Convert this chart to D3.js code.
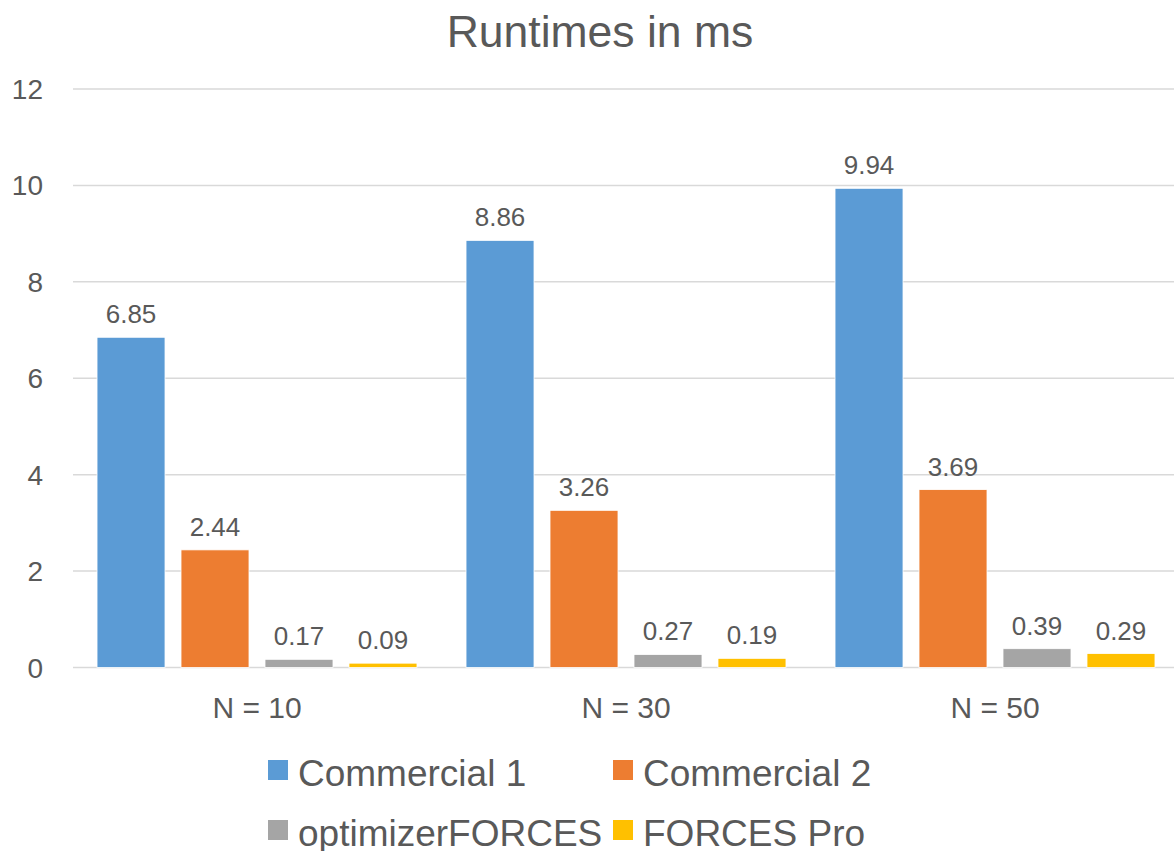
<!DOCTYPE html>
<html>
<head>
<meta charset="utf-8">
<script src="https://cdn.jsdelivr.net/npm/d3@7"></script>
<style>
  html, body { margin: 0; padding: 0; background: #fff; }
  svg { display: block; }
  text { font-family: "Liberation Sans", Arial, "Helvetica Neue", sans-serif; fill: #595959; }
</style>
</head>
<body>
<svg id="chart" width="1174" height="851"></svg>
<script>
const title = "Runtimes in ms";
const categories = ["N = 10", "N = 30", "N = 50"];
const seriesNames = ["Commercial 1", "Commercial 2", "optimizerFORCES", "FORCES Pro"];
const seriesColors = ["#5B9BD5", "#ED7D31", "#A5A5A5", "#FFC000"];
const commercial1 = [6.85, 8.86, 9.94];
const commercial2 = [2.44, 3.26, 3.69];
const optimizerFORCES = [0.17, 0.27, 0.39];
const forcesPro = [0.09, 0.19, 0.29];
const yTicks = [0, 2, 4, 6, 8, 10, 12];
const valueLabels = [
  ["6.85", "8.86", "9.94"],
  ["2.44", "3.26", "3.69"],
  ["0.17", "0.27", "0.39"],
  ["0.09", "0.19", "0.29"]
];

const seriesValues = [commercial1, commercial2, optimizerFORCES, forcesPro];

const svg = d3.select("#chart");

const y = d3.scaleLinear().domain([0, 12]).range([667.5, 89]);
const x0 = d3.scaleBand().domain(categories).range([72.5, 1179.5]).paddingInner(0).paddingOuter(0);
const x1 = d3.scaleBand().domain(seriesNames).range([0, x0.bandwidth()]).paddingInner(0.1905).paddingOuter(0.292);

// title
svg.append("text")
  .attr("x", 600).attr("y", 47)
  .attr("text-anchor", "middle")
  .style("font-size", "44.5px")
  .text(title);

// gridlines
svg.append("g").selectAll("line").data(yTicks).join("line")
  .attr("x1", 73).attr("x2", 1179)
  .attr("y1", d => y(d)).attr("y2", d => y(d))
  .attr("stroke", "#d9d9d9").attr("stroke-width", 1.5);

// y tick labels
svg.append("g").selectAll("text").data(yTicks).join("text")
  .attr("x", 43).attr("y", d => y(d) + 10)
  .attr("text-anchor", "end")
  .style("font-size", "28px")
  .text(d => d);

// bars
const groups = svg.append("g").selectAll("g").data(categories).join("g")
  .attr("transform", c => `translate(${x0(c)},0)`);

groups.each(function(c, ci) {
  const g = d3.select(this);
  seriesNames.forEach((s, si) => {
    const v = seriesValues[si][ci];
    g.append("rect")
      .attr("x", x1(s))
      .attr("y", y(v))
      .attr("width", x1.bandwidth())
      .attr("height", y(0) - y(v))
      .attr("fill", seriesColors[si])
      .attr("stroke", "#ffffff")
      .attr("stroke-width", 0.8);
    g.append("text")
      .attr("x", x1(s) + x1.bandwidth() / 2)
      .attr("y", y(v) - 14)
      .attr("text-anchor", "middle")
      .style("font-size", "26px")
      .text(valueLabels[si][ci]);
  });
});

// category labels
svg.append("g").selectAll("text").data(categories).join("text")
  .attr("x", c => x0(c) + x0.bandwidth() / 2)
  .attr("y", 718)
  .attr("text-anchor", "middle")
  .style("font-size", "30px")
  .text(c => c);

// legend
const legendPos = [
  { x: 268, y: 786 },
  { x: 613, y: 786 },
  { x: 268, y: 846 },
  { x: 613, y: 846 }
];
const legend = svg.append("g").selectAll("g").data(seriesNames).join("g")
  .attr("transform", (d, i) => `translate(${legendPos[i].x},${legendPos[i].y})`);
legend.append("rect")
  .attr("x", 0).attr("y", -26).attr("width", 20).attr("height", 20)
  .attr("fill", (d, i) => seriesColors[i]);
legend.append("text")
  .attr("x", 30).attr("y", 0)
  .style("font-size", "37px")
  .text(d => d);
</script>
</body>
</html>
